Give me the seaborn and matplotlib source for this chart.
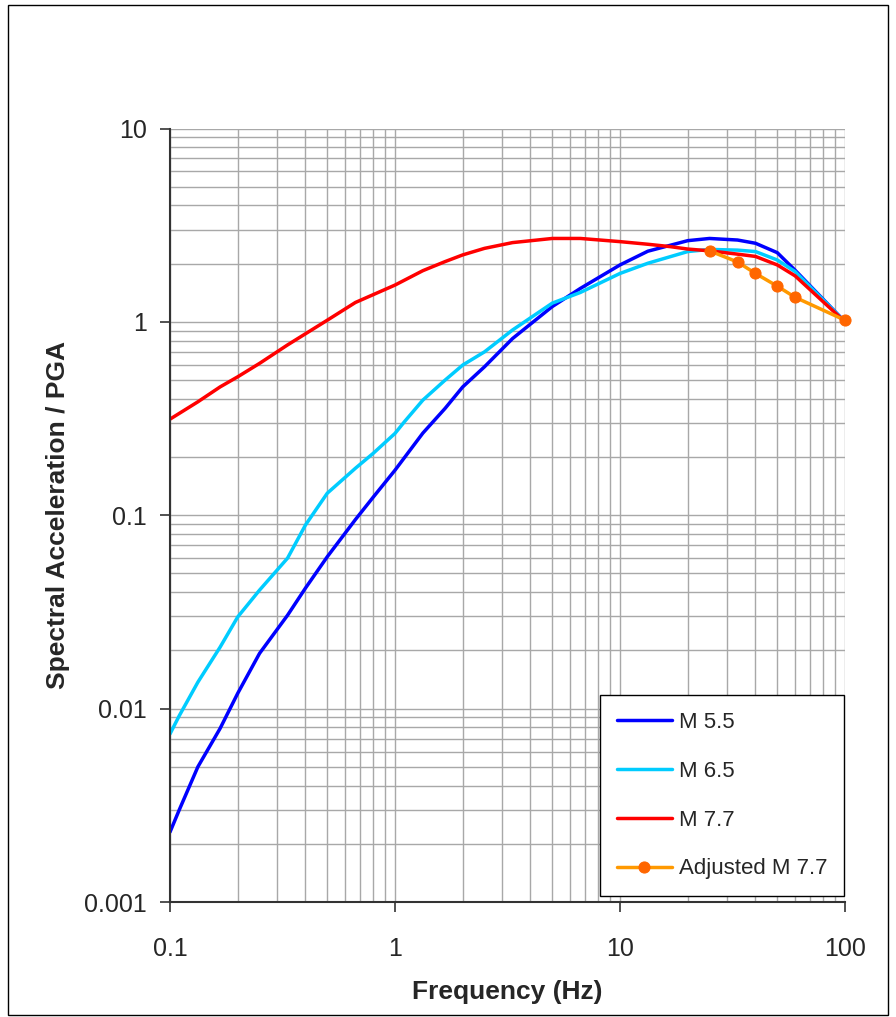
import matplotlib
matplotlib.use("Agg")
import matplotlib.pyplot as plt
import seaborn as sns
import pandas as pd
import numpy as np
from matplotlib.ticker import LogLocator, NullFormatter, FixedLocator, FixedFormatter
from matplotlib.patches import Rectangle

# ---- data ----
freq_m55 = [0.1, 0.11, 0.133, 0.167, 0.2, 0.25, 0.333, 0.4, 0.5, 0.667, 0.8, 1.0, 1.33, 1.67, 2.0, 2.5, 3.33,
            5.0, 6.67, 10.0, 13.3, 20.0, 25.0, 33.3, 40.0, 50.0, 60.0, 100.0]
sa_m55 = [0.0023, 0.0030, 0.0050, 0.0079, 0.012, 0.0193, 0.0304, 0.042, 0.061, 0.095, 0.124, 0.171, 0.266, 0.357,
          0.461, 0.586, 0.82, 1.2, 1.49, 1.97, 2.32, 2.63, 2.70, 2.65, 2.55, 2.28, 1.85, 1.0]

freq_m65 = [0.1, 0.11, 0.133, 0.167, 0.2, 0.25, 0.333, 0.4, 0.5, 0.667, 0.8, 1.0, 1.1, 1.33, 1.67, 2.0, 2.5,
            3.33, 5.0, 6.67, 10.0, 13.3, 20.0, 25.0, 33.3, 40.0, 50.0, 60.0, 100.0]
sa_m65 = [0.0074, 0.0092, 0.0137, 0.0208, 0.0298, 0.041, 0.06, 0.089, 0.13, 0.175, 0.209, 0.265, 0.304, 0.394,
          0.50, 0.598, 0.70, 0.908, 1.25, 1.42, 1.78, 2.01, 2.31, 2.37, 2.35, 2.31, 2.09, 1.82, 1.0]

freq_m77 = [0.1, 0.133, 0.167, 0.2, 0.25, 0.333, 0.5, 0.667, 1.0, 1.33, 1.67, 2.0, 2.5, 3.33, 5.0, 6.67,
            10.0, 13.3, 16.7, 20.0, 25.0, 33.3, 40.0, 50.0, 60.0, 100.0]
sa_m77 = [0.314, 0.386, 0.461, 0.52, 0.61, 0.76, 1.02, 1.26, 1.55, 1.84, 2.05, 2.22, 2.40, 2.57, 2.70, 2.70,
          2.60, 2.52, 2.45, 2.38, 2.33, 2.24, 2.18, 1.97, 1.73, 1.0]

freq_adj = [25.0, 33.3, 40.0, 50.0, 60.0, 100.0]
sa_adj = [2.33, 2.04, 1.78, 1.53, 1.34, 1.02]

labels = ["M 5.5", "M 6.5", "M 7.7", "Adjusted M 7.7"]
y_ticks = [0.001, 0.01, 0.1, 1, 10]
y_tick_labels = ["0.001", "0.01", "0.1", "1", "10"]
x_ticks = [0.1, 1, 10, 100]
x_tick_labels = ["0.1", "1", "10", "100"]

sns.set_style("white")
plt.rcParams['font.family'] = ['Liberation Sans', 'DejaVu Sans']

fig = plt.figure(figsize=(8.96, 10.17), dpi=100)
ax = fig.add_axes([170/896, 1 - 902/1017, (845-170)/896, (902-128.5)/1017])

ax.set_xscale("log")
ax.set_yscale("log")
ax.set_xlim(0.1, 100)
ax.set_ylim(0.001, 10)

grid_c = "#a8a8a8"
ax.xaxis.set_minor_locator(LogLocator(base=10, subs=np.arange(2, 10)))
ax.yaxis.set_minor_locator(LogLocator(base=10, subs=np.arange(2, 10)))
ax.grid(True, which="both", color=grid_c, lw=1.0)
ax.set_axisbelow(True)

df55 = pd.DataFrame({"f": freq_m55, "sa": sa_m55})
df65 = pd.DataFrame({"f": freq_m65, "sa": sa_m65})
df77 = pd.DataFrame({"f": freq_m77, "sa": sa_m77})
dfadj = pd.DataFrame({"f": freq_adj, "sa": sa_adj})

sns.lineplot(data=df55, x="f", y="sa", ax=ax, color="#0000FF", lw=2.5, label=labels[0], sort=False)
sns.lineplot(data=df65, x="f", y="sa", ax=ax, color="#00CCFF", lw=2.5, label=labels[1], sort=False)
sns.lineplot(data=df77, x="f", y="sa", ax=ax, color="#FF0000", lw=2.5, label=labels[2], sort=False)
sns.lineplot(data=dfadj, x="f", y="sa", ax=ax, color="#FF9900", lw=2.5, label=labels[3], sort=False,
             marker="o", markersize=8, markerfacecolor="#FF6600", markeredgecolor="#FF6600", clip_on=False)

ax.yaxis.set_major_locator(FixedLocator(y_ticks))
ax.yaxis.set_major_formatter(FixedFormatter(y_tick_labels))
ax.xaxis.set_major_locator(FixedLocator(x_ticks))
ax.xaxis.set_major_formatter(FixedFormatter(x_tick_labels))
ax.yaxis.set_minor_formatter(NullFormatter())
ax.xaxis.set_minor_formatter(NullFormatter())
ax.tick_params(axis="both", which="major", direction="out", length=7, width=1.2, color="#333333",
               labelsize=18, left=True, bottom=True)
ax.tick_params(axis="y", which="major", pad=9.5)
ax.tick_params(axis="x", which="major", pad=18)
ax.tick_params(axis="both", which="minor", length=0)

for side in ["top", "right"]:
    ax.spines[side].set_visible(False)
for side in ["left", "bottom"]:
    ax.spines[side].set_color("#333333")
    ax.spines[side].set_linewidth(1.5)

ax.set_xlabel("Frequency (Hz)", fontsize=19, fontweight="bold", labelpad=14)
ax.set_ylabel("Spectral Acceleration / PGA", fontsize=19, fontweight="bold", labelpad=10)

leg = ax.legend(loc="lower right", bbox_to_anchor=(844/896, 1 - 896/1017), bbox_transform=fig.transFigure,
                fontsize=16, frameon=True, fancybox=False, shadow=False, borderpad=0.75,
                labelspacing=1.25, handlelength=2.5, handletextpad=0.3, borderaxespad=0)
leg.get_frame().set_edgecolor("black")
leg.get_frame().set_linewidth(1.0)
leg.get_frame().set_alpha(1)

fig.patches.append(Rectangle((8/896, 2/1017), 880/896, 1 - 7/1017, transform=fig.transFigure,
                             fill=False, edgecolor="black", lw=1.0))

fig.savefig("out.png", dpi=100)
